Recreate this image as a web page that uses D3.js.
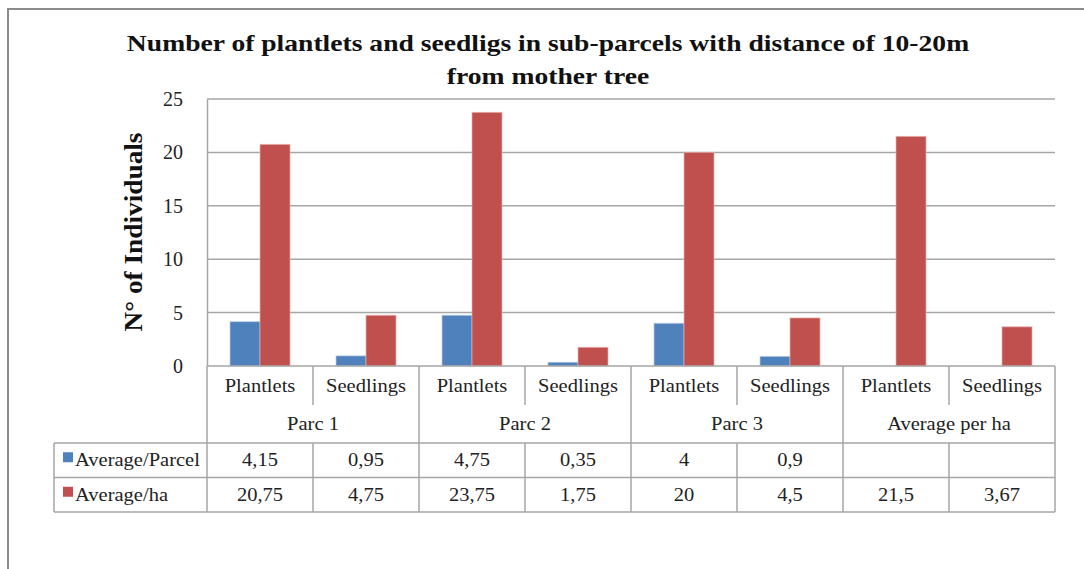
<!DOCTYPE html>
<html>
<head>
<meta charset="utf-8">
<script src="https://cdn.jsdelivr.net/npm/d3@7"></script>
<style>
  body { margin:0; background:#fff; }
  text { font-family:"Liberation Serif", "Times New Roman", serif; }
</style>
</head>
<body>
<div id="chart-area"></div>
<script>
//data
var groups = ["Parc 1", "Parc 2", "Parc 3", "Average per ha"];
var types = ["Plantlets", "Seedlings"];
var seriesNames = ["Average/Parcel", "Average/ha"];
var avgParcel = [4.15, 0.95, 4.75, 0.35, 4, 0.9, null, null];
var avgHa = [20.75, 4.75, 23.75, 1.75, 20, 4.5, 21.5, 3.67];
var yTicks = [0, 5, 10, 15, 20, 25];

//layout
var W = 1084, H = 569,
    plot = {left:207, right:1055, top:99, bottom:366},
    catRow = 39, grpRow = 38, serRow = 34.5,
    legendLeft = 54,
    stretch = 1.08; //the original text is drawn a bit wide

var colors = ["#4F81BD", "#C0504D"];
var gridColor = "#A6A6A6";

var svg = d3.select("#chart-area").append("svg")
    .attr("width", W)
    .attr("height", H);

//places a text at (x,y) with horizontal stretch k
function place(sel, xf, yf, k) {
    return sel.attr("transform", function(d, i) {
        var xx = typeof xf === "function" ? xf(d, i) : xf;
        var yy = typeof yf === "function" ? yf(d, i) : yf;
        return "translate(" + xx + "," + yy + ") scale(" + k + ",1)";
    });
}

//outer frame (only top and left visible in the original)
svg.append("rect")
    .attr("x", 8).attr("y", 9)
    .attr("width", W + 20).attr("height", H + 20)
    .attr("fill", "none")
    .attr("stroke", "#8c8c8c")
    .attr("stroke-width", 2);

//scales
var cols = d3.range(avgHa.length);
var x = d3.scaleBand().domain(cols).range([plot.left, plot.right]).padding(0);
var xs = d3.scaleBand().domain([0, 1]).range([0, x.bandwidth()]).paddingInner(0).paddingOuter(0.767);
var y = d3.scaleLinear().domain([0, 25]).range([plot.bottom, plot.top]);

//gridlines
svg.append("g").selectAll("line")
    .data(yTicks.filter(d => d > 0))
    .enter().append("line")
    .attr("x1", plot.left).attr("x2", plot.right)
    .attr("y1", d => y(d)).attr("y2", d => y(d))
    .attr("stroke", gridColor).attr("stroke-width", 1.5);

//y axis
var yAxis = d3.axisLeft(y).tickValues(yTicks).tickSize(0).tickPadding(24);
var ya = svg.append("g")
    .attr("transform", "translate(" + plot.left + ",0)")
    .call(yAxis);
ya.select(".domain").attr("stroke", gridColor).attr("stroke-width", 1.5);
ya.selectAll("text")
    .attr("font-size", 20)
    .attr("font-family", "Liberation Serif")
    .attr("fill", "#222");

//y title
svg.append("text")
    .attr("transform", "translate(142,232) rotate(-90)")
    .attr("text-anchor", "middle")
    .attr("font-size", 26)
    .attr("font-weight", "bold")
    .attr("fill", "#111")
    .attr("textLength", 199)
    .attr("lengthAdjust", "spacingAndGlyphs")
    .text("N° of Individuals");

//bars
var series = [avgParcel, avgHa];
series.forEach((vals, s) => {
    svg.append("g").selectAll("rect")
        .data(cols.filter(i => vals[i] != null))
        .enter().append("rect")
        .attr("x", i => x(i) + xs(s))
        .attr("y", i => y(vals[i]))
        .attr("width", xs.bandwidth())
        .attr("height", i => y(0) - y(vals[i]))
        .attr("fill", colors[s])
        .attr("stroke", s ? "#E6B0AE" : "#B8CCE4")
        .attr("stroke-width", 1)
        .attr("stroke-opacity", 0.7);
});

//data table
var tbl = svg.append("g").attr("stroke", gridColor).attr("stroke-width", 1.5);
var grpTop = plot.bottom + catRow,
    serTop = grpTop + grpRow,
    tblBottom = serTop + serRow * 2;

//axis line
tbl.append("line").attr("x1", plot.left).attr("x2", plot.right).attr("y1", plot.bottom).attr("y2", plot.bottom);
//series row lines
[serTop, serTop + serRow, tblBottom].forEach(v => {
    tbl.append("line").attr("x1", legendLeft).attr("x2", plot.right).attr("y1", v).attr("y2", v);
});
//column lines
cols.concat([cols.length]).forEach(i => {
    var xx = i < cols.length ? x(i) : plot.right;
    var full = i % 2 === 0;
    tbl.append("line").attr("x1", xx).attr("x2", xx)
        .attr("y1", plot.bottom).attr("y2", full ? tblBottom : grpTop);
    if (!full) tbl.append("line").attr("x1", xx).attr("x2", xx).attr("y1", serTop).attr("y2", tblBottom);
});
tbl.append("line").attr("x1", legendLeft).attr("x2", legendLeft).attr("y1", serTop).attr("y2", tblBottom);

//category labels
place(svg.append("g").selectAll("text")
    .data(cols)
    .enter().append("text"),
    i => x(i) + x.bandwidth() / 2, plot.bottom + catRow / 2 + 6, stretch)
    .attr("text-anchor", "middle")
    .attr("font-size", 19)
    .attr("fill", "#222")
    .text(i => types[i % 2]);

//group labels
place(svg.append("g").selectAll("text")
    .data(groups)
    .enter().append("text"),
    (d, g) => x(g * 2) + x.bandwidth(), grpTop + grpRow / 2 + 6, stretch)
    .attr("text-anchor", "middle")
    .attr("font-size", 19)
    .attr("fill", "#222")
    .text(d => d);

//series rows: legend key + values
var fmt = v => v == null ? "" : String(v).replace(".", ",");
series.forEach((vals, s) => {
    var cy = serTop + serRow * s + serRow / 2;
    svg.append("rect")
        .attr("x", 63).attr("y", cy - 8)
        .attr("width", 10).attr("height", 10)
        .attr("fill", colors[s]);
    place(svg.append("text"), 75, cy + 6, stretch)
        .attr("font-size", 19)
        .attr("fill", "#222")
        .text(seriesNames[s]);
    place(svg.append("g").selectAll("text")
        .data(cols)
        .enter().append("text"),
        i => x(i) + x.bandwidth() / 2, cy + 6, stretch)
        .attr("text-anchor", "middle")
        .attr("font-size", 19)
        .attr("fill", "#222")
        .text(i => fmt(vals[i]));
});

//title
var titleLines = ["Number of plantlets and seedligs in sub-parcels with distance of 10-20m", "from mother tree"];
place(svg.append("g").selectAll("text")
    .data(titleLines)
    .enter().append("text"),
    548, (d, i) => 51 + i * 33, 1.15)
    .attr("text-anchor", "middle")
    .attr("font-size", 24)
    .attr("font-weight", "bold")
    .attr("fill", "#111")
    .text(d => d);
</script>
</body>
</html>
